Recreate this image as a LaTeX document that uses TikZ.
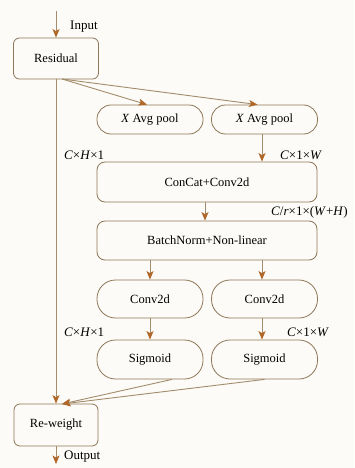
\documentclass[tikz,border=0pt]{standalone}
\usepackage{fontspec}
\setmainfont{Liberation Serif}
\usetikzlibrary{arrows.meta}
\definecolor{bg}{HTML}{FCFBF7}
\definecolor{edge}{HTML}{8E7658}
\definecolor{wire}{HTML}{A38C6C}
\definecolor{tipc}{HTML}{B0682A}
\begin{document}
\begin{tikzpicture}[x=1pt,y=-1pt,
  box/.style={draw=edge,line width=0.8pt,fill=bg,rounded corners=6pt,inner sep=0pt,font=\fontsize{12.5}{14}\selectfont},
  pill/.style={draw=edge,line width=0.8pt,fill=bg,rounded corners=14pt,inner sep=0pt,minimum width=106pt,font=\fontsize{12.5}{14}\selectfont},
  bigpill/.style={pill,rounded corners=18.5pt},
  wide/.style={draw=edge,line width=0.8pt,fill=bg,rounded corners=8pt,inner sep=0pt,minimum width=220pt,font=\fontsize{12.5}{14}\selectfont},
  lab/.style={anchor=west,inner sep=0pt,font=\fontsize{13}{15}\selectfont},
  arr/.style={draw=wire,line width=0.9pt,-{Stealth[length=8.5pt,width=7pt,inset=2pt,color=tipc]}},
  ln/.style={draw=wire,line width=0.9pt}]
\fill[bg] (0,0) rectangle (354,468);
\useasboundingbox (0,0) rectangle (354,468);

\node[box,minimum width=85pt,minimum height=41pt] (res) at (56,58.5) {Residual};
\node[pill,minimum height=29pt] (p1) at (150,119.5) {\textit{X} Avg pool};
\node[pill,minimum height=29pt] (p2) at (264.5,119.5) {\textit{X} Avg pool};
\node[wide,minimum height=40pt] (cc) at (207,182) {ConCat+Conv2d};
\node[wide,minimum height=39pt] (bn) at (207,240.5) {BatchNorm+Non-linear};
\node[bigpill,minimum height=38pt] (c1) at (150,299) {Conv2d};
\node[bigpill,minimum height=38pt] (c2) at (264.5,299) {Conv2d};
\node[bigpill,minimum height=39pt] (s1) at (150,359.5) {Sigmoid};
\node[bigpill,minimum height=39pt] (s2) at (264.5,359.5) {Sigmoid};
\node[box,minimum width=84pt,minimum height=42pt] (rw) at (56,425) {Re-weight};

\coordinate (in) at (56,11);
\coordinate (out) at (56,464);
\coordinate (rs) at (62,79);
\coordinate (rwt2) at (62,404);

\node[lab] (tin) at (70,27) {Input};
\node[lab] (tout) at (64,457) {Output};
\node[lab] (l1) at (64,155) {\textit{C}×\textit{H}×1};
\node[lab] (l2) at (280,155) {\textit{C}×1×\textit{W}};
\node[lab] (l3) at (271,212) {\textit{C}/\textit{r}×1×(\textit{W}+\textit{H})};
\node[lab] (l4) at (64,332) {\textit{C}×\textit{H}×1};
\node[lab] (l5) at (287,332) {\textit{C}×1×\textit{W}};

\draw[arr] (in) -- (res.north);
\draw[arr] (res.south) -- (rw.north);
\draw[arr] (rs) -- ([xshift=-3pt]p1.north);
\draw[arr] (rs) -- ([xshift=-7pt]p2.north);
\draw[arr] (p2.south -| 262,0) -- (cc.north -| 262,0);
\draw[arr] (cc.south -| 205,0) -- (bn.north -| 205,0);
\draw[arr] (bn.south -| 150,0) -- (c1.north);
\draw[arr] (bn.south -| 262,0) -- (c2.north -| 262,0);
\draw[arr] (c1.south) -- (s1.north);
\draw[arr] (c2.south -| 262,0) -- (s2.north -| 262,0);
\draw[arr] ([xshift=22pt]s1.south) -- (rwt2);
\draw[arr] (s2.south) -- (rwt2);
\draw[arr] (rw.south) -- (out);
\end{tikzpicture}
\end{document}
